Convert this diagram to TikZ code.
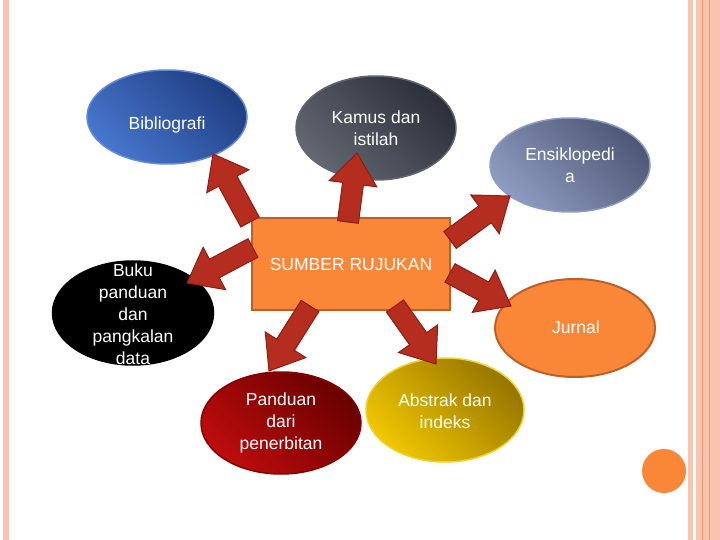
\documentclass[tikz,border=0pt]{standalone}
\usepackage{fontspec}
\setmainfont{Liberation Sans}
\usetikzlibrary{shapes.geometric,calc}

\definecolor{stripe}{RGB}{248,196,176}
\definecolor{stripeline}{RGB}{232,150,118}
\definecolor{boxorange}{RGB}{250,135,55}
\definecolor{boxline}{RGB}{190,95,40}
\definecolor{arrowred}{RGB}{180,45,30}
\definecolor{arrowline}{RGB}{140,30,20}
\definecolor{bibdark}{RGB}{32,62,130}
\definecolor{biblight}{RGB}{70,118,205}
\definecolor{kamdark}{RGB}{42,47,57}
\definecolor{kamlight}{RGB}{98,103,113}
\definecolor{ensdark}{RGB}{78,88,118}
\definecolor{enslight}{RGB}{142,155,192}
\definecolor{absdark}{RGB}{150,118,0}
\definecolor{abslight}{RGB}{242,198,0}
\definecolor{absline}{RGB}{238,212,40}
\definecolor{pandark}{RGB}{105,0,0}
\definecolor{panlight}{RGB}{190,12,12}

\tikzset{
  bubble/.style={ellipse, minimum width=160, minimum height=96, inner sep=0pt,
    line width=1.5pt},
  shaded/.style 2 args={top color=#1, bottom color=#2, shading angle=-45},
  bubbletext/.style={text=white, align=center, font=\fontsize{17.5}{22}\selectfont},
  pusat/.style={rectangle, minimum width=198, minimum height=92, fill=boxorange,
    draw=boxline, line width=2pt, text=white, font=\fontsize{17.5}{22}\selectfont},
  bigarrow/.style={fill=arrowred, draw=arrowline, line width=1pt, line join=miter}
}

% block arrow from tail #1 to tip #2
\newcommand{\rujarrow}[2]{%
  \coordinate (hb) at ($(#2)!31pt!(#1)$);
  \draw[bigarrow] ($(#1)!10.5pt!-90:(#2)$) -- ($(hb)!10.5pt!-90:(#2)$)
    -- ($(hb)!24pt!-90:(#2)$) -- (#2) -- ($(hb)!24pt!90:(#2)$)
    -- ($(hb)!10.5pt!90:(#2)$) -- ($(#1)!10.5pt!90:(#2)$) -- cycle;}

\begin{document}
\begin{tikzpicture}[x=1pt, y=-1pt]
    \useasboundingbox (0,0) rectangle (720,540);

    % Page stripes
    \fill[stripe] (3,0) rectangle (9,540);
    \fill[stripe] (688,0) rectangle (693,540);
    \fill[stripe] (696,0) rectangle (720,540);
    \draw[stripeline, line width=0.8pt] (702,0) -- (702,540);
    \draw[stripeline, line width=0.6pt] (709,0) -- (709,540);
    \fill[boxorange] (664,471) circle (22);

    % Bubbles
    \node[bubble, minimum height=94, shaded={bibdark}{biblight}, draw=biblight!85!white]
      (bib) at (167,117) {};
    \node[bubble, minimum height=104, shaded={kamdark}{kamlight}, draw=kamlight]
      (kamus) at (376,128) {};
    \node[bubble, minimum height=94, shaded={ensdark}{enslight}, draw=enslight]
      (ensi) at (570,165) {};
    \node[bubble, minimum height=98, fill=boxorange, draw=boxline, line width=2pt]
      (jurnal) at (575,328) {};
    \node[bubble, minimum width=158, minimum height=104, shaded={absdark}{abslight}, draw=absline]
      (abstrak) at (445,410) {};
    \node[bubble, minimum height=102, shaded={pandark}{panlight}, draw=pandark!80!red]
      (panduan) at (281,423) {};
    \node[bubble, minimum width=161, minimum height=104, fill=black, draw=black]
      (buku) at (133,313) {};

    % Bubble texts
    \node[bubbletext] (bibtext) at (167,125) {Bibliografi};
    \node[bubbletext] (kamustext) at (376,128) {Kamus dan\\istilah};
    \node[bubbletext] (ensitext) at (570,165) {Ensiklopedi\\a};
    \node[bubbletext] (jurnaltext) at (576,327) {Jurnal};
    \node[bubbletext] (abstraktext) at (445,411) {Abstrak dan\\indeks};
    \node[bubbletext] (pandutext) at (281,423) {Panduan\\dari\\penerbitan};
    \node[bubbletext] (bukutext) at (133,314) {Buku\\panduan\\dan\\pangkalan\\data};

    % Centre box
    \node[pusat] (sumber) at (351,264) {SUMBER RUJUKAN};

    % Arrow ends
    \coordinate (t1) at (250,222); \coordinate (p1) at (213,154);
    \coordinate (t2) at (348,222); \coordinate (p2) at (357,153);
    \coordinate (t3) at (450,240); \coordinate (p3) at (510,196);
    \coordinate (t4) at (450,273); \coordinate (p4) at (511,306);
    \coordinate (t5) at (395,306); \coordinate (p5) at (436,364);
    \coordinate (t6) at (310,306); \coordinate (p6) at (269,371);
    \coordinate (t7) at (253,248); \coordinate (p7) at (187,283);

    % Arrows
    \rujarrow{t1}{p1}
    \rujarrow{t2}{p2}
    \rujarrow{t3}{p3}
    \rujarrow{t4}{p4}
    \rujarrow{t5}{p5}
    \rujarrow{t6}{p6}
    \rujarrow{t7}{p7}
\end{tikzpicture}
\end{document}
